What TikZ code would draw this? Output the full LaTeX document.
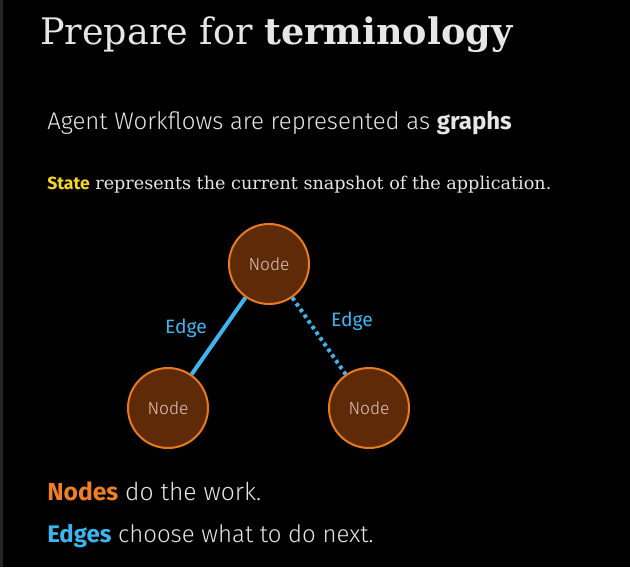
\documentclass[tikz,border=0pt]{standalone}
\usepackage{fontspec}
\setmainfont{Fira Sans}
\newfontfamily\slab{DejaVu Serif}
\newfontfamily\fira{Fira Sans}
\IfFontExistsTF{Fira Sans Light}{\newfontfamily\firalight{Fira Sans Light}[BoldFont={Fira Sans SemiBold}]}{\newfontfamily\firalight{Fira Sans}}
\definecolor{bgc}{HTML}{000000}
\definecolor{txt}{HTML}{E6E6E6}
\definecolor{nodefill}{HTML}{5E2A08}
\definecolor{nodeline}{HTML}{E97A1F}
\definecolor{nodetxt}{HTML}{E2C6BC}
\definecolor{edgec}{HTML}{3DB5EE}
\definecolor{orangec}{HTML}{F07F22}
\definecolor{yellowc}{HTML}{F6D526}
\tikzset{
  gnode/.style={circle, draw=nodeline, fill=nodefill, line width=1.5pt, minimum size=60pt, inner sep=0pt, text=nodetxt, font=\firalight\fontsize{13}{15}\selectfont},
  edgelab/.style={text=edgec, font=\fira\fontsize{14.5}{17}\selectfont},
  line/.style={anchor=base west, inner sep=0pt, text=txt}
}
\begin{document}
\begin{tikzpicture}[x=0.75pt,y=-0.75pt]
\fill[bgc] (0,0) rectangle (630,567);
\fill[black!85!white] (0,0) rectangle (3,567);
\useasboundingbox (0,0) rectangle (630,567);
\node[line, font=\slab\fontsize{27.4}{32}\selectfont] (title) at (40,45) {Prepare for \textbf{terminology}};
\node[line, font=\firalight\fontsize{18}{22}\selectfont] (sub) at (47,129) {Agent Workflows are represented as {\fira\bfseries graphs}};
\node[line, font=\slab\fontsize{13.2}{16}\selectfont] (state) at (47,189) {\textcolor{yellowc}{\fira\bfseries State} represents the current snapshot of the application.};
\node[gnode] (top) at (269,264) {Node};
\node[gnode] (bl) at (168,408) {Node};
\node[gnode] (br) at (369,408) {Node};
\draw[edgec, line width=3pt] (top) -- (bl);
\draw[edgec, line width=3pt, dash pattern=on 2.6pt off 2.6pt] (top) -- (br);
\node[edgelab] (e1) at (186,328) {Edge};
\node[edgelab] (e2) at (352,321) {Edge};
\node[line, font=\firalight\fontsize{18.5}{22}\selectfont] (n1) at (47,500) {\textcolor{orangec}{\fira\bfseries Nodes} do the work.};
\node[line, font=\firalight\fontsize{18}{22}\selectfont] (n2) at (47,542) {\textcolor{edgec}{\fira\bfseries Edges} choose what to do next.};
\end{tikzpicture}
\end{document}
